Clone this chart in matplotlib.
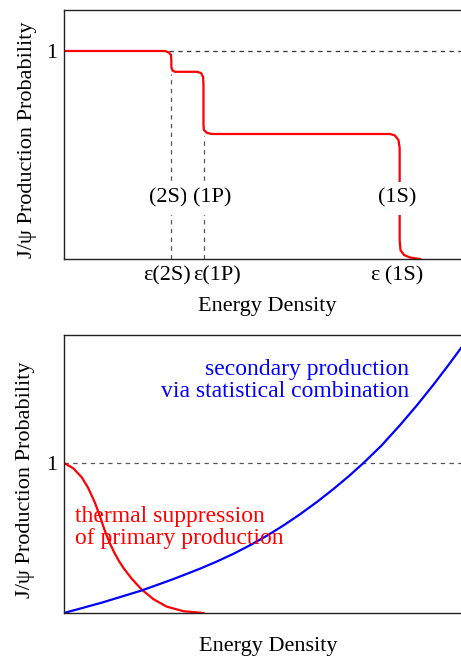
import matplotlib
matplotlib.use("Agg")
import matplotlib.pyplot as plt

plt.rcParams["font.family"] = ["Liberation Serif", "DejaVu Serif"]

# top panel: sequential suppression curve (energy density, probability)
step_x = [0.0, 0.251, 0.261, 0.266, 0.267, 0.267, 0.270, 0.276, 0.331, 0.341,
          0.346, 0.347, 0.347, 0.348, 0.356, 0.368, 0.811, 0.823, 0.832, 0.835,
          0.835, 0.837, 0.846, 0.861, 0.886]
step_y = [1.0, 1.0, 0.993, 0.981, 0.957, 0.923, 0.906, 0.900, 0.900, 0.894,
          0.875, 0.837, 0.644, 0.620, 0.606, 0.601, 0.601, 0.594, 0.572, 0.534,
          0.091, 0.043, 0.019, 0.007, 0.0]

# dissociation thresholds and the level the dashed markers reach
thresh_x = [0.265, 0.348]
thresh_top = [0.90, 0.60]
state_names = ["(2S)", "(1P)", "(1S)"]
state_label_x = [0.259, 0.368, 0.828]
tick_labels = ["ε(2S)", "ε(1P)", "ε\u2009(1S)"]
tick_pos = [0.256, 0.381, 0.828]

# bottom panel
thermal_x = [0.0, 0.023, 0.044, 0.060, 0.077, 0.090, 0.102, 0.114, 0.125, 0.136,
             0.148, 0.168, 0.193, 0.222, 0.255, 0.297, 0.347]
thermal_y = [1.0, 0.965, 0.905, 0.835, 0.735, 0.640, 0.545, 0.465, 0.403, 0.350,
             0.300, 0.230, 0.157, 0.093, 0.043, 0.012, 0.0]
secondary_x = [0.0, 0.094, 0.193, 0.270, 0.338, 0.380, 0.421, 0.463, 0.504, 0.545,
               0.587, 0.630, 0.670, 0.708, 0.745, 0.790, 0.836, 0.878, 0.919, 0.955,
               0.988, 1.0]
secondary_y = [0.0, 0.069, 0.150, 0.224, 0.295, 0.343, 0.394, 0.452, 0.514, 0.582,
               0.658, 0.742, 0.826, 0.911, 1.0, 1.117, 1.253, 1.385, 1.522, 1.648,
               1.768, 1.813]

FS = 16
FS_NOTE = 17
W, H = 461, 658
fig = plt.figure(figsize=(W / 100, H / 100), dpi=100)

ax1 = fig.add_axes([64 / W, 1 - 259 / H, 402 / W, 249 / H])
ax2 = fig.add_axes([64 / W, 1 - 613 / H, 402 / W, 278 / H])

for ax in (ax1, ax2):
    for sp in ax.spines.values():
        sp.set_linewidth(1.0)
        sp.set_color("#222222")
    ax.tick_params(length=0, labelsize=FS, pad=5)
    ax.set_xlim(0, 1)
    ax.set_yticks([1])
    ax.set_yticklabels(["1"])

# ---- top ----
ax1.set_ylim(0, 249 / 208)
ax1.plot([0.26, 1], [1, 1], ls=(0, (3.5, 3.5)), color="#333333", lw=0.9)
for xv, top in zip(thresh_x, thresh_top):
    ax1.plot([xv, xv], [0, top - 0.01], ls=(0, (3.5, 3.5)), color="#555555", lw=0.9)
ax1.plot(step_x, step_y, color="#ff0000", lw=1.6, solid_joinstyle="round")
for name, xv in zip(state_names, state_label_x):
    ax1.text(xv, 0.293, name, ha="center", va="center", fontsize=FS,
             bbox=dict(facecolor="white", edgecolor="none", pad=5))
ax1.set_xticks(tick_pos)
ax1.set_xticklabels(tick_labels)
ax1.set_xlabel("Energy Density", fontsize=FS)
ax1.xaxis.set_label_coords(0.505, -0.19)
ax1.xaxis.label.set_va("center")
ax1.set_ylabel("J/ψ Production Probability", fontsize=FS)
ax1.yaxis.set_label_coords(-0.092, 0.478)
ax1.yaxis.label.set_va("center")

# ---- bottom ----
ax2.set_ylim(0, 278 / 150)
ax2.plot([0, 1], [1, 1], ls=(0, (3.5, 3.5)), color="#555555", lw=0.9)
ax2.plot(thermal_x, thermal_y, color="#ff0000", lw=1.6, solid_joinstyle="round")
ax2.plot(secondary_x, secondary_y, color="#0000ff", lw=1.6, solid_joinstyle="round")
ax2.text(0.027, 0.57, "thermal suppression\nof primary production", color="#ff0000",
         fontsize=FS_NOTE, ha="left", va="center", linespacing=1.05)
ax2.text(0.858, 1.55, "secondary production\nvia statistical combination", color="#0000ff",
         fontsize=FS_NOTE, ha="right", va="center", multialignment="right", linespacing=1.12)
ax2.set_xticks([])
ax2.set_xlabel("Energy Density", fontsize=FS)
ax2.xaxis.set_label_coords(0.507, -0.122)
ax2.xaxis.label.set_va("center")
ax2.set_ylabel("J/ψ Production Probability", fontsize=FS)
ax2.yaxis.set_label_coords(-0.097, 0.478)
ax2.yaxis.label.set_va("center")

fig.savefig("out.png", dpi=100)
